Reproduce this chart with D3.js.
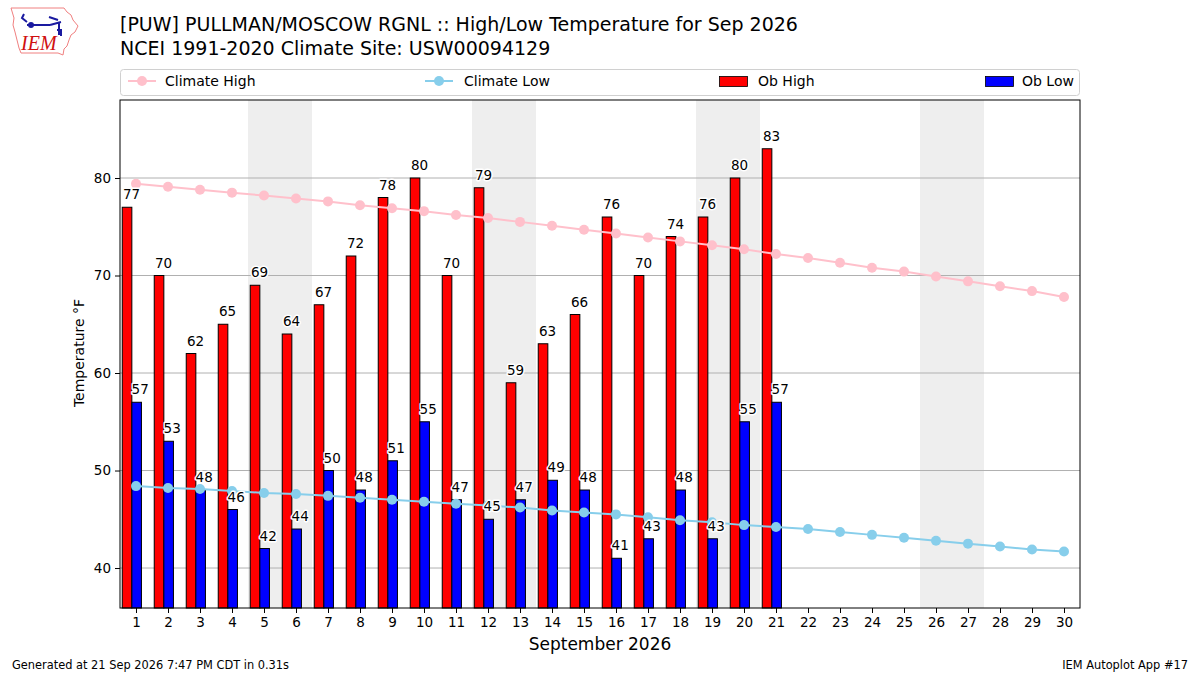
<!DOCTYPE html>
<html lang="en">
<head>
  <meta charset="UTF-8">
  <title>PUW High/Low Temperature Sep 2026</title>
  <style>
    body { margin: 0; background: #fff; }
    svg text { font-family: "DejaVu Sans", sans-serif; fill: #000; }
  </style>
  <script src="https://cdn.jsdelivr.net/npm/d3@7"></script>
</head>
<body>
<div class="main"></div>
<script>

// days of Sep 2026
var days = d3.range(1, 31);
var obDays = d3.range(1, 22);
var obHigh = [77, 70, 62, 65, 69, 64, 67, 72, 78, 80, 70, 79, 59, 63, 66, 76, 70, 74, 76, 80, 83];
var obLow = [57, 53, 48, 46, 42, 44, 50, 48, 51, 55, 47, 45, 47, 49, 48, 41, 43, 48, 43, 55, 57];
var climHigh = [79.4, 79.1, 78.8, 78.5, 78.2, 77.9, 77.6, 77.2, 76.9, 76.6,
                76.2, 75.9, 75.5, 75.1, 74.7, 74.3, 73.9, 73.5, 73.1, 72.7,
                72.2, 71.8, 71.3, 70.8, 70.4, 69.9, 69.4, 68.9, 68.4, 67.8];
var climLow = [48.4, 48.2, 48.1, 47.9, 47.7, 47.6, 47.4, 47.2, 47.0, 46.8,
               46.6, 46.4, 46.2, 45.9, 45.7, 45.5, 45.2, 44.9, 44.7, 44.4,
               44.2, 44.0, 43.7, 43.4, 43.1, 42.8, 42.5, 42.2, 41.9, 41.7];
var weekends = [5, 6, 12, 13, 19, 20, 26, 27];
var yTicks = [40, 50, 60, 70, 80];

var width = 1200, height = 675;
var pLeft = 120, pRight = 1080, pTop = 100, pBottom = 608;

var svg = d3.select(".main").append("svg")
    .attr("width", width)
    .attr("height", height);

var x = d3.scaleLinear().domain([0.5, 30.5]).range([pLeft, pRight]);
var y = d3.scaleLinear().domain([35.9, 88.0]).range([pBottom, pTop]);
var bw = x(1.3) - x(1);

// titles
svg.append("text").attr("x", 120).attr("y", 31).style("font-size", "19px")
    .text("[PUW] PULLMAN/MOSCOW RGNL :: High/Low Temperature for Sep 2026");
svg.append("text").attr("x", 120).attr("y", 55).style("font-size", "19px")
    .text("NCEI 1991-2020 Climate Site: USW00094129");

// logo
var logo = svg.append("g");
logo.append("path")
    .attr("d", "M11,8 L64,8 L67,12 L71,15 L73,20 L78,26 L75,32 L71,35 L69,40 L67,46 L64,49 L63,55 L58,53 L21,53 L19,48 L17,40 L15,32 L13,25 L14,18 Z")
    .attr("fill", "none").attr("stroke", "#f08080").attr("stroke-width", 1);
logo.append("path")
    .attr("d", "M27,25 L50,25 M50,25 L61,22 M49,17 L58,20 M59,22 L59,35 M24,14 L22,18 L27,22 M57,30 L61,30 L61,36")
    .attr("fill", "none").attr("stroke", "#1a1aa0").attr("stroke-width", 2);
logo.append("circle").attr("cx", 31).attr("cy", 25).attr("r", 3).attr("fill", "#1a1aa0");
logo.append("text").attr("x", 21).attr("y", 50)
    .style("font-family", "'Liberation Serif', serif").style("font-style", "italic")
    .style("font-size", "20px").style("fill", "#d01010").text("IEM");

// legend
var leg = svg.append("g");
leg.append("rect").attr("x", 120.5).attr("y", 69.5).attr("width", 959).attr("height", 26)
    .attr("rx", 3).attr("fill", "#fff").attr("stroke", "#d0d0d0");
[["Climate High", "pink", 128, 165], ["Climate Low", "skyblue", 425, 464]].forEach(function(d) {
  leg.append("line").attr("x1", d[2]).attr("x2", d[2] + 28).attr("y1", 81).attr("y2", 81)
      .attr("stroke", d[1]).attr("stroke-width", 2);
  leg.append("circle").attr("cx", d[2] + 14).attr("cy", 81).attr("r", 5).attr("fill", d[1]);
  leg.append("text").attr("x", d[3]).attr("y", 86).style("font-size", "14px").text(d[0]);
});
[["Ob High", "red", 719, 758], ["Ob Low", "blue", 985, 1022]].forEach(function(d) {
  leg.append("rect").attr("x", d[2] + 0.5).attr("y", 76.5).attr("width", 28).attr("height", 10)
      .attr("fill", d[1]).attr("stroke", "#000").attr("stroke-width", 0.8);
  leg.append("text").attr("x", d[3]).attr("y", 86).style("font-size", "14px").text(d[0]);
});

// weekend shading
svg.append("g").selectAll("rect").data(weekends).enter().append("rect")
    .attr("x", function(d) { return x(d - 0.5); })
    .attr("width", x(1.5) - x(0.5))
    .attr("y", pTop).attr("height", pBottom - pTop)
    .attr("fill", "#eeeeee");

// grid
svg.append("g").selectAll("line").data(yTicks).enter().append("line")
    .attr("x1", pLeft).attr("x2", pRight)
    .attr("y1", function(d) { return y(d); }).attr("y2", function(d) { return y(d); })
    .attr("stroke", "#b0b0b0").attr("stroke-width", 1);

// bars
var highData = obDays.map(function(d, i) { return { day: d, v: obHigh[i] }; });
var lowData = obDays.map(function(d, i) { return { day: d, v: obLow[i] }; });

svg.append("g").selectAll("rect").data(highData).enter().append("rect")
    .attr("x", function(d) { return x(d.day - 0.43); })
    .attr("width", bw)
    .attr("y", function(d) { return y(d.v); })
    .attr("height", function(d) { return pBottom - y(d.v); })
    .attr("fill", "red").attr("stroke", "#000").attr("stroke-width", 1);

svg.append("g").selectAll("rect").data(lowData).enter().append("rect")
    .attr("x", function(d) { return x(d.day - 0.13); })
    .attr("width", bw)
    .attr("y", function(d) { return y(d.v); })
    .attr("height", function(d) { return pBottom - y(d.v); })
    .attr("fill", "blue").attr("stroke", "#000").attr("stroke-width", 1);

// climate lines
function climLine(vals, color) {
  var pts = days.map(function(d, i) { return [d, vals[i]]; });
  var line = d3.line().x(function(d) { return x(d[0]); }).y(function(d) { return y(d[1]); });
  svg.append("path").datum(pts).attr("d", line)
      .attr("fill", "none").attr("stroke", color).attr("stroke-width", 2);
  svg.append("g").selectAll("circle").data(pts).enter().append("circle")
      .attr("cx", function(d) { return x(d[0]); })
      .attr("cy", function(d) { return y(d[1]); })
      .attr("r", 5).attr("fill", color);
}
climLine(climHigh, "pink");
climLine(climLow, "skyblue");

// bar labels
function barLabels(data, off) {
  svg.append("g").selectAll("text").data(data).enter().append("text")
      .attr("x", function(d) { return x(d.day + off); })
      .attr("y", function(d) { return y(d.v) - 8; })
      .attr("text-anchor", "middle")
      .style("font-size", "13.5px")
      .style("stroke", "#fff").style("stroke-width", 3).style("paint-order", "stroke")
      .style("stroke-linejoin", "round")
      .text(function(d) { return d.v; });
}
barLabels(highData, -0.14);
barLabels(lowData, 0.13);

// frame
svg.append("rect").attr("x", pLeft).attr("y", pTop)
    .attr("width", pRight - pLeft).attr("height", pBottom - pTop)
    .attr("fill", "none").attr("stroke", "#000").attr("stroke-width", 1);

// axes
var xAxis = svg.append("g").attr("transform", "translate(0," + pBottom + ")")
    .call(d3.axisBottom(x).tickValues(days).tickSize(5).tickPadding(4).tickFormat(d3.format("d")));
var yAxis = svg.append("g").attr("transform", "translate(" + pLeft + ",0)")
    .call(d3.axisLeft(y).tickValues(yTicks).tickSize(5).tickPadding(4));
[xAxis, yAxis].forEach(function(a) {
  a.select(".domain").remove();
  a.selectAll("text").style("font-size", "13.5px").style("font-family", "'DejaVu Sans', sans-serif");
});

svg.append("text").attr("x", 600).attr("y", 650).attr("text-anchor", "middle")
    .style("font-size", "17px").text("September 2026");
svg.append("text").attr("transform", "translate(84,353) rotate(-90)")
    .attr("text-anchor", "middle").style("font-size", "14px").text("Temperature °F");

// footer
svg.append("text").attr("x", 12).attr("y", 669).style("font-size", "11.4px")
    .text("Generated at 21 Sep 2026 7:47 PM CDT in 0.31s");
svg.append("text").attr("x", 1188).attr("y", 669).attr("text-anchor", "end").style("font-size", "11.4px")
    .text("IEM Autoplot App #17");

</script>
</body>
</html>
